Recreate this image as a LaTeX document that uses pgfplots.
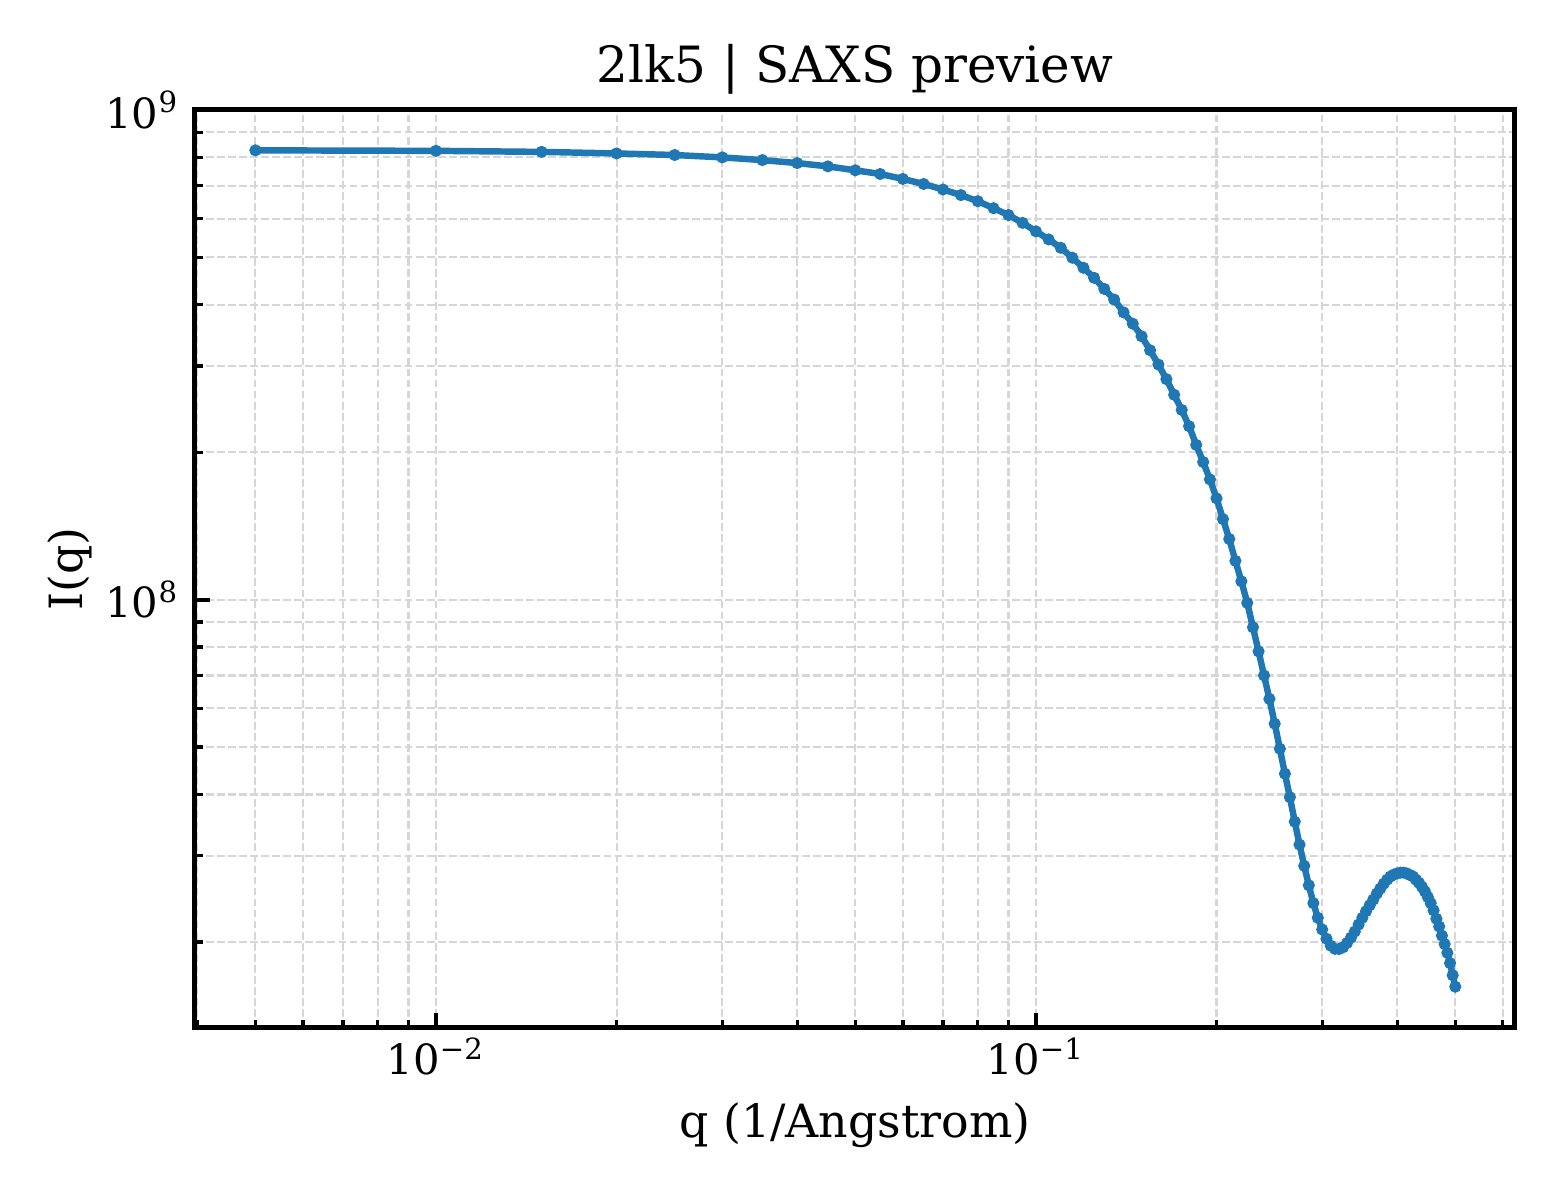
\documentclass[border=0pt]{standalone}
\usepackage{pgfplots}
\pgfplotsset{compat=1.18}
\usepackage{fontspec}
\setmainfont{DejaVu Serif}
\definecolor{c1}{HTML}{1F77B4}
\definecolor{gridc}{RGB}{214,214,214}
\begin{document}
\begin{tikzpicture}
\begin{axis}[
  scale only axis,
  width=316.8pt, height=220.3pt,
  xmode=log, ymode=log,
  xmin=0.003966, xmax=0.6287,
  ymin=1.335e7, ymax=1e9,
  axis line style={line width=1.2pt},
  tick align=inside,
  xtick pos=bottom, ytick pos=left,
  xtick={0.01,0.1},
  xticklabels={10\textsuperscript{−2},10\textsuperscript{−1}},
  ytick={1e8,1e9},
  yticklabels={10\textsuperscript{8},10\textsuperscript{9}},
  minor xtick={0.004,0.005,0.006,0.007,0.008,0.009,0.02,0.03,0.04,0.05,0.06,0.07,0.08,0.09,0.2,0.3,0.4,0.5,0.6},
  minor ytick={2e7,3e7,4e7,5e7,6e7,7e7,8e7,9e7,2e8,3e8,4e8,5e8,6e8,7e8,8e8,9e8},
  major tick length=3.6pt,
  minor tick length=2pt,
  major tick style={line width=1pt, black},
  minor tick style={line width=0.8pt, black},
  grid=both,
  major grid style={gridc, line width=0.5pt, dash pattern=on 1.85pt off 0.8pt},
  minor grid style={gridc, line width=0.5pt, dash pattern=on 1.85pt off 0.8pt},
  tick label style={font=\fontsize{10}{12}\selectfont},
  xticklabel style={anchor=base, inner sep=0pt, yshift=-11.3pt},
  yticklabel style={anchor=east, inner sep=0pt, xshift=-3.6pt},
  title={2lk5 | SAXS preview},
  title style={font=\fontsize{12}{14}\selectfont, at={(axis description cs:0.5,1)}, anchor=base, yshift=0.7pt, inner sep=0pt},
  xlabel={q (1/Angstrom)},
  xlabel style={font=\fontsize{11}{13}\selectfont, at={(axis description cs:0.5,0)}, anchor=base, yshift=-26.2pt, inner sep=0pt},
  ylabel={I(q)},
  ylabel style={font=\fontsize{11}{13}\selectfont, at={(axis description cs:-0.0849,0.5)}, anchor=base, rotate=0, inner sep=0pt},
]
\addplot[color=c1, line width=1.55pt, mark=*, mark size=1.25pt, mark options={line width=0.4pt, solid}] table[row sep=\\] {
x y\\
0.005 8.27e8\\
0.010 8.25e8\\
0.015 8.21e8\\
0.020 8.15e8\\
0.025 8.09e8\\
0.030 8.00e8\\
0.035 7.90e8\\
0.040 7.79e8\\
0.045 7.67e8\\
0.050 7.53e8\\
0.055 7.40e8\\
0.060 7.23e8\\
0.065 7.06e8\\
0.070 6.88e8\\
0.075 6.70e8\\
0.080 6.51e8\\
0.085 6.30e8\\
0.090 6.10e8\\
0.095 5.88e8\\
0.100 5.65e8\\
0.105 5.44e8\\
0.110 5.23e8\\
0.115 4.99e8\\
0.120 4.76e8\\
0.125 4.54e8\\
0.130 4.31e8\\
0.135 4.10e8\\
0.140 3.86e8\\
0.145 3.66e8\\
0.150 3.45e8\\
0.155 3.23e8\\
0.160 3.02e8\\
0.165 2.82e8\\
0.170 2.62e8\\
0.175 2.44e8\\
0.180 2.26e8\\
0.185 2.07e8\\
0.190 1.91e8\\
0.195 1.76e8\\
0.200 1.61e8\\
0.205 1.46e8\\
0.210 1.33e8\\
0.215 1.20e8\\
0.220 1.09e8\\
0.225 9.85e7\\
0.230 8.78e7\\
0.235 7.84e7\\
0.240 7.00e7\\
0.245 6.27e7\\
0.250 5.58e7\\
0.255 4.96e7\\
0.260 4.41e7\\
0.265 3.95e7\\
0.270 3.52e7\\
0.275 3.16e7\\
0.280 2.86e7\\
0.285 2.61e7\\
0.290 2.40e7\\
0.295 2.24e7\\
0.300 2.12e7\\
0.305 2.03e7\\
0.310 1.965e7\\
0.315 1.936e7\\
0.320 1.934e7\\
0.325 1.95e7\\
0.330 1.99e7\\
0.335 2.04e7\\
0.340 2.10e7\\
0.345 2.17e7\\
0.350 2.24e7\\
0.355 2.31e7\\
0.360 2.375e7\\
0.365 2.44e7\\
0.370 2.51e7\\
0.375 2.57e7\\
0.380 2.63e7\\
0.385 2.68e7\\
0.390 2.72e7\\
0.395 2.745e7\\
0.400 2.76e7\\
0.405 2.77e7\\
0.410 2.77e7\\
0.415 2.76e7\\
0.420 2.74e7\\
0.425 2.72e7\\
0.430 2.68e7\\
0.435 2.64e7\\
0.440 2.59e7\\
0.445 2.535e7\\
0.450 2.47e7\\
0.455 2.40e7\\
0.460 2.32e7\\
0.465 2.23e7\\
0.470 2.15e7\\
0.475 2.06e7\\
0.480 1.98e7\\
0.485 1.90e7\\
0.490 1.81e7\\
0.495 1.71e7\\
0.500 1.62e7\\
};
\end{axis}
\useasboundingbox ([shift={(-46.8pt,-41.28pt)}]current axis.south west) rectangle ([shift={(10.8pt,26.4pt)}]current axis.north east);
\end{tikzpicture}
\end{document}
